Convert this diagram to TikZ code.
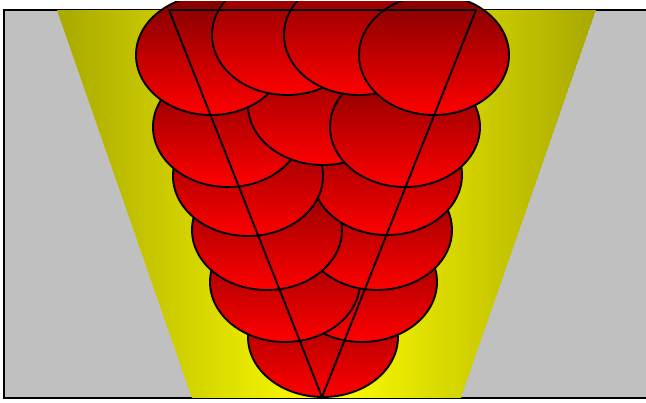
\documentclass[tikz,border=0pt]{standalone}
\definecolor{olv}{RGB}{168,168,0}
\definecolor{yel}{RGB}{255,255,0}
\definecolor{dred}{RGB}{128,0,0}
\definecolor{rd}{RGB}{255,0,0}
\definecolor{bgray}{RGB}{192,192,192}
\begin{document}
\begin{tikzpicture}[x=1pt,y=-1pt,
  berry/.style={draw=black, line width=1.9pt, top color=dred, bottom color=rd},
  edge/.style={draw=black, line width=1.9pt}]
\useasboundingbox (0,0) rectangle (646,403);
\clip (0,2) rectangle (646,403);
% background box
\path[fill=bgray, edge] (4,10) rectangle (649,398);
% yellow trapezoid with horizontal gradient
\begin{scope}
\clip (57,10) -- (596,10) -- (461,398) -- (192,398) -- cycle;
\foreach \i in {0,...,269}{
  \pgfmathsetmacro\xx{57+2*\i}
  \pgfmathsetmacro\pp{100*(1-abs(\xx+1-326.5)/269.5)}
  \fill[yel!\pp!olv] (\xx,10) rectangle ({\xx+2.4},398);
}
\end{scope}
% berries, back to front
\path[berry] (323,337) ellipse [x radius=75, y radius=60]; % K
\path[berry] (362,282) ellipse [x radius=75, y radius=60]; % N
\path[berry] (285,282) ellipse [x radius=75, y radius=60]; % J
\path[berry] (377,230) ellipse [x radius=75, y radius=60]; % M
\path[berry] (267,230) ellipse [x radius=75, y radius=60]; % I
\path[berry] (387,175) ellipse [x radius=75, y radius=60]; % L
\path[berry] (248,176) ellipse [x radius=75, y radius=60]; % H
\path[berry] (228,127) ellipse [x radius=75, y radius=60]; % E
\path[berry] (323,105) ellipse [x radius=75, y radius=60]; % F
\path[berry] (405,127) ellipse [x radius=75, y radius=60]; % G
\path[berry] (211,55) ellipse [x radius=75, y radius=60]; % A
\path[berry] (287,35) ellipse [x radius=75, y radius=60]; % B
\path[berry] (359,35) ellipse [x radius=75, y radius=60]; % C
\path[berry] (434,55) ellipse [x radius=75, y radius=60]; % D
% triangle
\draw[line width=1.9pt, line join=round] (169,10) -- (476,10) -- (322,397) -- cycle;
\end{tikzpicture}
\end{document}
